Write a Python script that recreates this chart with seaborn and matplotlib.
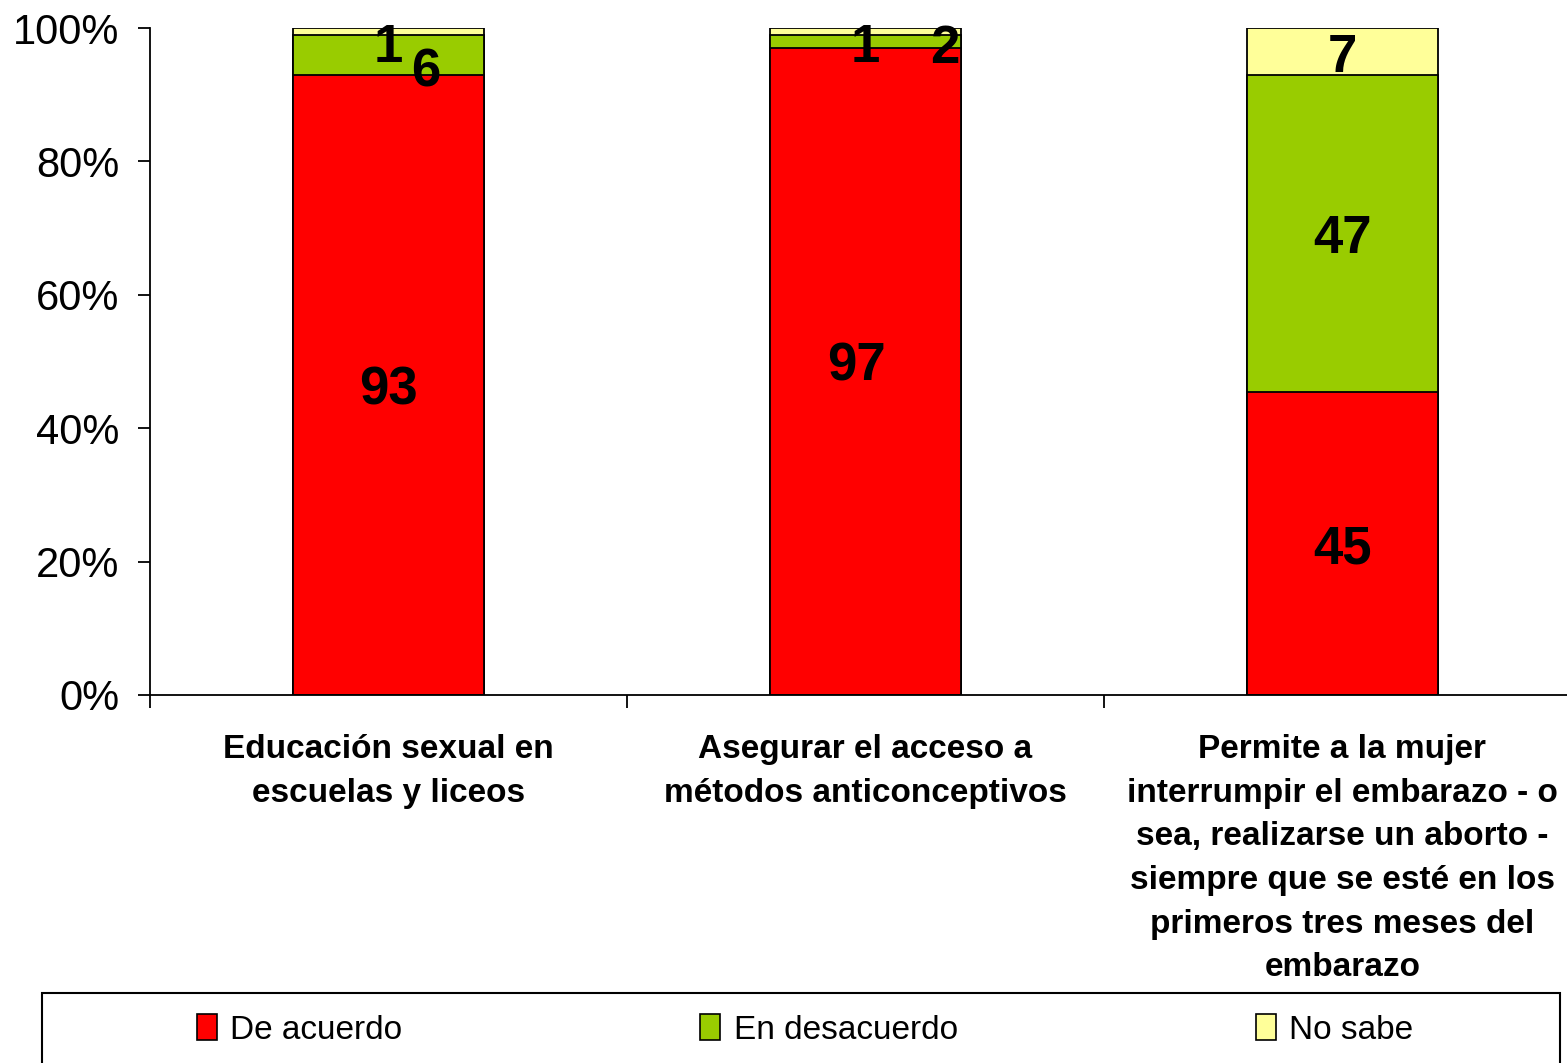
import matplotlib.pyplot as plt
import matplotlib.patches as mpatches
import pandas as pd
import seaborn as sns

categories = [
    "Educación sexual en\nescuelas y liceos",
    "Asegurar el acceso a\nmétodos anticonceptivos",
    "Permite a la mujer\ninterrumpir el embarazo - o\nsea, realizarse un aborto -\n"
    "siempre que se esté en los\nprimeros tres meses del\nembarazo",
]
de_acuerdo = [93, 97, 45]
en_desacuerdo = [6, 2, 47]
no_sabe = [1, 1, 7]
series_names = ["De acuerdo", "En desacuerdo", "No sabe"]
colors = ["#FF0000", "#99CC00", "#FFFF99"]

# label nudges in pixels (Excel pushes small labels aside)
nudges = {
    (0, 2): (0, -17), (0, 1): (37, -18),
    (1, 2): (0, -17), (1, 1): (79, -8),
    (1, 0): (-9, 5),
}


def main():
    sns.set_style("white")
    plt.rcParams["font.family"] = ["Liberation Sans", "DejaVu Sans"]
    plt.rcParams["text.color"] = "black"
    plt.rcParams["xtick.color"] = "black"
    plt.rcParams["ytick.color"] = "black"

    W, H = 1567, 1063
    fig = plt.figure(figsize=(W / 100, H / 100), dpi=100)
    ax = fig.add_axes([150 / W, 1 - 695 / H, 1431 / W, 667 / H])

    df = pd.DataFrame({
        "cat": categories,
        series_names[0]: de_acuerdo,
        series_names[1]: en_desacuerdo,
        series_names[2]: no_sabe,
    })
    total = df[series_names].sum(axis=1)
    pct = df[series_names].div(total, axis=0) * 100
    cum = pct.cumsum(axis=1)

    # draw cumulative bars from the top layer down
    for name, col in reversed(list(zip(series_names, colors))):
        sns.barplot(x=df["cat"], y=cum[name], color=col, width=0.4,
                    edgecolor="black", linewidth=1.3, ax=ax, saturation=1)

    for i in range(len(categories)):
        for j, name in enumerate(series_names):
            top = cum[name].iloc[i]
            mid = top - pct[name].iloc[i] / 2
            dx, dy = nudges.get((i, j), (0, -6))
            ax.annotate(str(df[name].iloc[i]), (i, mid), xytext=(dx, dy),
                        textcoords="offset pixels", ha="center", va="center",
                        fontsize=38, fontweight="bold", color="black")

    ax.set_xlim(-0.5, 2.5)
    ax.set_ylim(0, 100)
    ax.set_yticks(range(0, 101, 20))
    ax.set_yticklabels([f"{v}%" for v in range(0, 101, 20)], fontsize=30)
    ax.set_xlabel("")
    ax.set_ylabel("")
    ax.set_xticks([-0.5, 0.5, 1.5, 2.5], minor=True)
    ax.tick_params(axis="x", which="major", length=0, pad=28)
    ax.tick_params(axis="x", which="minor", length=9, width=1.3,
                   direction="out", color="black", bottom=True)
    ax.tick_params(axis="y", length=9, width=1.3, direction="out",
                   color="black", left=True, pad=13)
    for lbl in ax.get_xticklabels():
        lbl.set_fontsize(24)
        lbl.set_fontweight("bold")
        lbl.set_linespacing(1.53)
    for s in ["top", "right"]:
        ax.spines[s].set_visible(False)
    for s in ["left", "bottom"]:
        ax.spines[s].set_color("black")
        ax.spines[s].set_linewidth(1.3)

    handles = [mpatches.Patch(facecolor=c, edgecolor="black", linewidth=1.2)
               for c in colors]
    fig.legend(handles, series_names, loc="center", ncol=3, mode="expand",
               bbox_to_anchor=(197 / W, 1 - 1040 / H, (1413 - 197) / W, 20 / H),
               frameon=False, fontsize=24, handlelength=0.6, handleheight=0.8,
               handletextpad=0.4, borderaxespad=0, borderpad=0)
    fig.add_artist(mpatches.Rectangle((42 / W, -0.02), (1560 - 42) / W,
                                      (1063 - 993) / H + 0.02,
                                      transform=fig.transFigure, fill=False,
                                      edgecolor="black", linewidth=1.5))

    fig.savefig("out.png", dpi=100)


if __name__ == "__main__":
    main()
